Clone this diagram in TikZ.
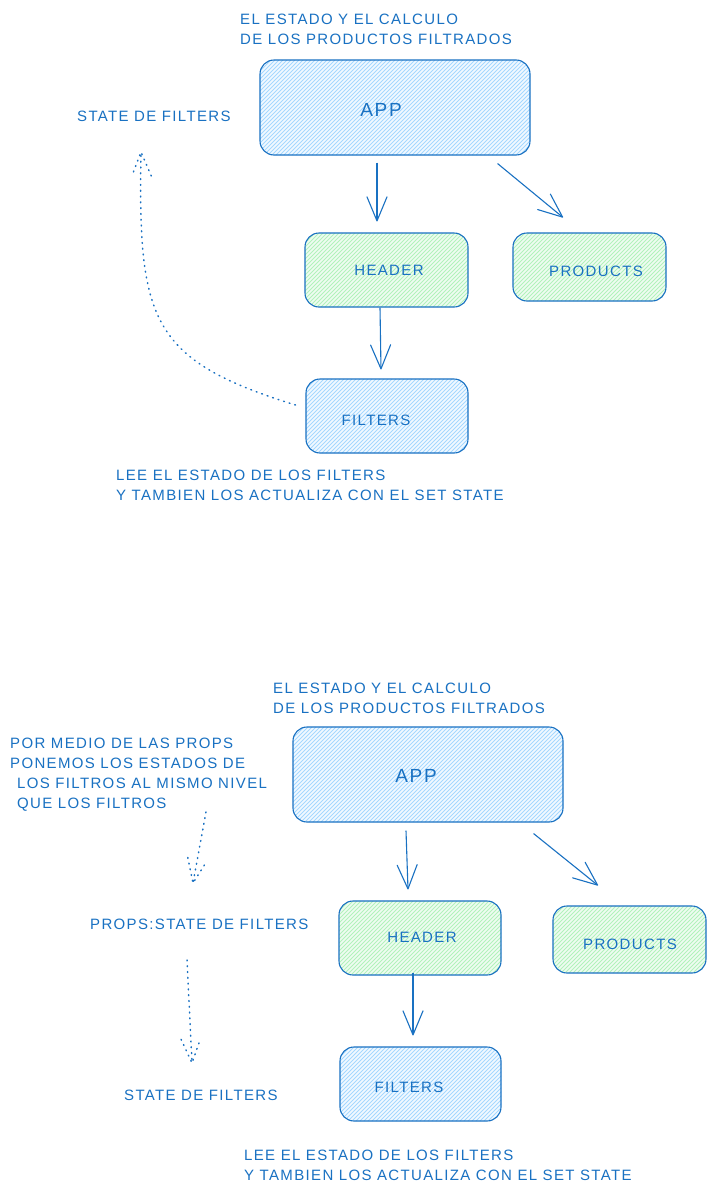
\documentclass[tikz,border=0pt]{standalone}
\usepackage{fontspec}
\newfontfamily\hand{Liberation Sans}[LetterSpace=9]
\usetikzlibrary{arrows.meta,calc}
\definecolor{ink}{HTML}{1971C2}
\definecolor{hblue}{HTML}{A5D8FF}
\definecolor{hgreen}{HTML}{B2F2BB}
\definecolor{tblue}{HTML}{F2F9FF}
\definecolor{tgreen}{HTML}{EFFCF1}
\begin{document}
\begin{tikzpicture}[x=1pt,y=-1pt,
  box/.style={draw=ink,line width=1.1pt,rounded corners=14pt,inner sep=0pt},
  hatch/.style={path picture={
      \foreach \i in {-120,-116,...,290}
        \draw[#1,line width=0.8pt] ($(path picture bounding box.south west)+(\i,0)$) -- ++(130,-130);}},
  bluebox/.style={box,fill=tblue,hatch=hblue},
  greenbox/.style={box,fill=tgreen,hatch=hgreen},
  txt/.style={text=ink,font=\hand\fontsize{15}{20}\selectfont,inner sep=0pt,align=left,anchor=north west},
  lbl/.style={text=ink,font=\hand\fontsize{15}{20}\selectfont,inner sep=0pt},
  biglbl/.style={text=ink,font=\hand\fontsize{19}{22}\selectfont,inner sep=0pt},
  arr/.style={draw=ink,line width=1.1pt,-{Straight Barb[length=24pt,width=20pt,round]}},
  dotline/.style={draw=ink,line width=1.5pt,dash pattern=on 0.8pt off 5pt,line cap=round}
]
\fill[white] (0,0) rectangle (716,1197);

% ---------- top diagram ----------
\node[txt] (titleA) at (240,14) {EL ESTADO Y EL CALCULO\\DE LOS PRODUCTOS FILTRADOS};
\node[bluebox,minimum width=270pt,minimum height=95pt] (appA) at (395,107.5) {};
\node[biglbl] (appAL) at (381,110) {APP};
\node[txt] (stateA) at (77,111) {STATE DE FILTERS};
\node[greenbox,minimum width=163pt,minimum height=74pt] (headerA) at (386.5,270) {};
\node[lbl] (headerAL) at (389,270) {HEADER};
\node[greenbox,minimum width=153pt,minimum height=68pt] (productsA) at (589.5,267) {};
\node[lbl] (productsAL) at (596,271) {PRODUCTS};
\node[bluebox,minimum width=162pt,minimum height=74pt] (filtersA) at (387,416) {};
\node[lbl] (filtersAL) at (376,420) {FILTERS};
\node[txt] (leeA) at (116,470) {LEE EL ESTADO DE LOS FILTERS\\Y TAMBIEN LOS ACTUALIZA CON EL SET STATE};

\draw[arr] ($(appA.south)+(-18,7)$) -- ($(headerA.north)+(-9.5,-11)$);
\draw[arr] ($(appA.south east)+(-33,8)$) -- ($(productsA.north)+(-26.5,-15)$);
\draw[arr] ($(headerA.south)+(-6.5,0)$) -- ($(filtersA.north)+(-6,-9)$);

\coordinate (tipA) at (141,152);
\coordinate (tailA) at (142,200);
\draw[dotline] ($(filtersA.west)+(-10,-11)$) .. controls (150,360) and (138,320) .. (tipA);
\draw[dotline] ($(tipA)!26pt!22:(tailA)$) -- (tipA) -- ($(tipA)!26pt!-22:(tailA)$);

% ---------- bottom diagram ----------
\node[txt] (titleB) at (273,683) {EL ESTADO Y EL CALCULO\\DE LOS PRODUCTOS FILTRADOS};
\node[bluebox,minimum width=270pt,minimum height=95pt] (appB) at (428,774.5) {};
\node[biglbl] (appBL) at (416,776) {APP};
\node[txt] (porB) at (10,738) {POR MEDIO DE LAS PROPS\\PONEMOS LOS ESTADOS DE\\\hspace*{7pt}LOS FILTROS AL MISMO NIVEL\\\hspace*{7pt}QUE LOS FILTROS};
\node[txt] (propsB) at (90,919) {PROPS:STATE DE FILTERS};
\node[greenbox,minimum width=162pt,minimum height=74pt] (headerB) at (420,938) {};
\node[lbl] (headerBL) at (422,937) {HEADER};
\node[greenbox,minimum width=153pt,minimum height=67pt] (productsB) at (629.5,939.5) {};
\node[lbl] (productsBL) at (630,944) {PRODUCTS};
\node[bluebox,minimum width=161pt,minimum height=74pt] (filtersB) at (420.5,1084) {};
\node[lbl] (filtersBL) at (409,1087) {FILTERS};
\node[txt] (stateB) at (124,1090) {STATE DE FILTERS};
\node[txt] (leeB) at (244,1150) {LEE EL ESTADO DE LOS FILTERS\\Y TAMBIEN LOS ACTUALIZA CON EL SET STATE};

\draw[arr] ($(appB.south)+(-22,8)$) -- ($(headerB.north)+(-12,-11)$);
\draw[arr] ($(appB.south east)+(-30,11)$) -- ($(productsB.north)+(-31.5,-20)$);
\draw[arr] ($(headerB.south)+(-7,-3)$) -- ($(filtersB.north)+(-7.5,-11)$);

\coordinate (tailB) at (206,812);
\coordinate (tipB) at (193,883);
\draw[dotline] (tailB) -- (tipB);
\draw[dotline] ($(tipB)!26pt!22:(tailB)$) -- (tipB) -- ($(tipB)!26pt!-22:(tailB)$);

\coordinate (tailC) at (187,960);
\coordinate (tipC) at (192,1063);
\draw[dotline] (tailC) -- (tipC);
\draw[dotline] ($(tipC)!26pt!22:(tailC)$) -- (tipC) -- ($(tipC)!26pt!-22:(tailC)$);
\end{tikzpicture}
\end{document}
